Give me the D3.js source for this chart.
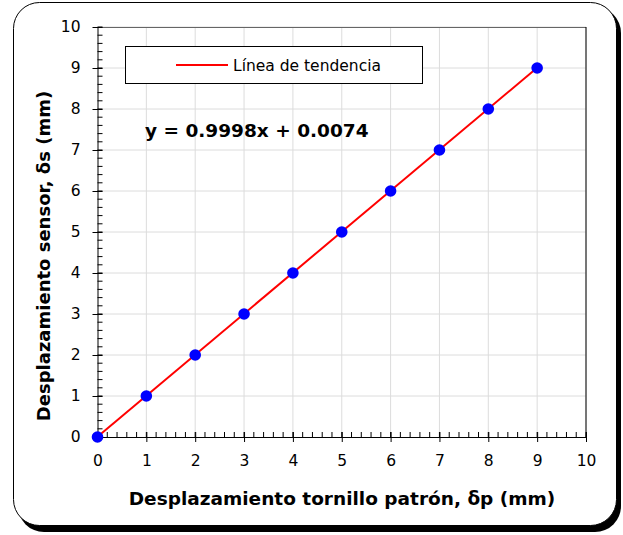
<!DOCTYPE html>
<html>
<head>
<meta charset="utf-8">
<script src="https://cdn.jsdelivr.net/npm/d3@7"></script>
<style>
  body { margin: 0; background: #fff; }
  text { font-family: Verdana, "DejaVu Sans", sans-serif; }
</style>
</head>
<body>
<div id="chart"></div>
<script>
// measured values (mm)
var xValues = [0, 1, 2, 3, 4, 5, 6, 7, 8, 9];
var yValues = [0, 1, 2, 3, 4, 5, 6, 7, 8, 9];
var xTicks = [0, 1, 2, 3, 4, 5, 6, 7, 8, 9, 10];
var yTicks = [0, 1, 2, 3, 4, 5, 6, 7, 8, 9, 10];
var slope = 0.9998;
var intercept = 0.0074;

var svgWidth = 623;
var svgHeight = 535;

var margin = { top: 27, right: 37, bottom: 98, left: 97.5 };
var width = 586 - margin.left;
var height = 437 - margin.top;

var svg = d3.select("#chart")
  .append("svg")
  .attr("width", svgWidth)
  .attr("height", svgHeight);

// frame with shadow
svg.append("rect")
  .attr("x", 18).attr("y", 7)
  .attr("width", 603).attr("height", 525)
  .attr("rx", 26).attr("ry", 26)
  .attr("fill", "#000");
svg.append("rect")
  .attr("x", 13.5).attr("y", 2.5)
  .attr("width", 603).attr("height", 523)
  .attr("rx", 26).attr("ry", 26)
  .attr("fill", "#fff")
  .attr("stroke", "#000")
  .attr("stroke-width", 1);

var chartGroup = svg.append("g")
  .attr("transform", `translate(${margin.left},${margin.top})`);

var x = d3.scaleLinear().domain([0, 10]).range([0, width]);
var y = d3.scaleLinear().domain([0, 10]).range([height, 0]);

// gridlines
chartGroup.append("g")
  .selectAll("line")
  .data(xTicks.slice(1))
  .enter()
  .append("line")
  .attr("x1", d => x(d)).attr("x2", d => x(d))
  .attr("y1", 0).attr("y2", height)
  .attr("stroke", "#dcdcdc");
chartGroup.append("g")
  .selectAll("line")
  .data(yTicks.slice(1))
  .enter()
  .append("line")
  .attr("x1", 0).attr("x2", width)
  .attr("y1", d => y(d)).attr("y2", d => y(d))
  .attr("stroke", "#dcdcdc");

// plot border (top + right)
chartGroup.append("line")
  .attr("x1", 0).attr("x2", width).attr("y1", 0.5).attr("y2", 0.5)
  .attr("stroke", "#666");
chartGroup.append("line")
  .attr("x1", width).attr("x2", width).attr("y1", 0).attr("y2", height)
  .attr("stroke", "#000");

// minor ticks
var minor = d3.range(0, 10.001, 0.2);
chartGroup.append("g")
  .selectAll("line")
  .data(minor)
  .enter()
  .append("line")
  .attr("x1", d => x(d)).attr("x2", d => x(d))
  .attr("y1", height).attr("y2", height - 5)
  .attr("stroke", "#000");
chartGroup.append("g")
  .selectAll("line")
  .data(minor)
  .enter()
  .append("line")
  .attr("x1", 0).attr("x2", 5)
  .attr("y1", d => y(d)).attr("y2", d => y(d))
  .attr("stroke", "#000");

// axes with crossing major ticks
var bottomAxis = d3.axisBottom(x).tickValues(xTicks).tickSizeInner(5).tickSizeOuter(0).tickPadding(9);
var leftAxis = d3.axisLeft(y).tickValues(yTicks).tickSizeInner(5).tickSizeOuter(0).tickPadding(9);

var xAxis = chartGroup.append("g")
  .attr("transform", `translate(0, ${height})`)
  .call(bottomAxis);
xAxis.selectAll(".tick line").attr("y1", -5).attr("y2", 5);

var yAxis = chartGroup.append("g")
  .call(leftAxis);
yAxis.selectAll(".tick line").attr("x1", 5).attr("x2", -5);

[xAxis, yAxis].forEach(function(a) {
  a.select(".domain").attr("stroke", "#000");
  a.selectAll(".tick line").attr("stroke", "#000");
  a.selectAll("text")
    .attr("font-family", "Verdana, 'DejaVu Sans', sans-serif")
    .attr("font-size", "15.5px")
    .attr("fill", "#000");
});
xAxis.selectAll("text").attr("dy", "0.95em");
yAxis.selectAll("text").attr("dx", "-3px");

// trend line
chartGroup.append("line")
  .attr("x1", x(0)).attr("y1", y(intercept))
  .attr("x2", x(9)).attr("y2", y(slope * 9 + intercept))
  .attr("stroke", "#ff0000")
  .attr("stroke-width", 2);

// points
chartGroup.append("g")
  .selectAll("circle")
  .data(xValues)
  .enter()
  .append("circle")
  .attr("cx", (d, i) => x(d))
  .attr("cy", (d, i) => y(yValues[i]))
  .attr("r", 5.8)
  .attr("fill", "#0000ff");

// legend
svg.append("rect")
  .attr("x", 125.5).attr("y", 46.5)
  .attr("width", 297).attr("height", 37)
  .attr("fill", "#fff")
  .attr("stroke", "#000");
svg.append("line")
  .attr("x1", 176).attr("x2", 228)
  .attr("y1", 65).attr("y2", 65)
  .attr("stroke", "#ff0000")
  .attr("stroke-width", 2);
svg.append("text")
  .attr("x", 233).attr("y", 71)
  .attr("font-size", "15.5px")
  .text("Línea de tendencia");

// equation
svg.append("text")
  .attr("x", 145).attr("y", 137)
  .attr("font-size", "18.5px")
  .attr("font-weight", "bold")
  .text(`y = ${slope}x + ${intercept}`);

// axis titles
svg.append("text")
  .attr("x", 342).attr("y", 505)
  .attr("text-anchor", "middle")
  .attr("font-size", "18.5px")
  .attr("font-weight", "bold")
  .text("Desplazamiento tornillo patrón, δp (mm)");

svg.append("text")
  .attr("transform", "translate(50, 256) rotate(-90)")
  .attr("text-anchor", "middle")
  .attr("font-size", "18px")
  .attr("font-weight", "bold")
  .text("Desplazamiento sensor, δs (mm)");
</script>
</body>
</html>
